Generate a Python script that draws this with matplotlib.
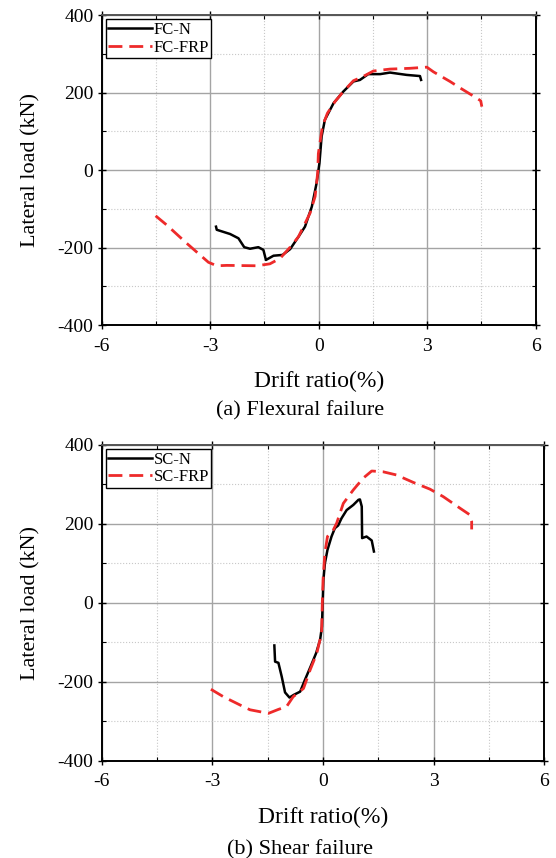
import matplotlib
matplotlib.use('Agg')
import matplotlib.pyplot as plt
from matplotlib.ticker import MultipleLocator

plt.rcParams['font.family'] = ['Liberation Serif', 'DejaVu Serif']
plt.rcParams['axes.unicode_minus'] = False

# (a) flexural failure
fc_n_x = [-2.84, -2.82, -2.45, -2.22, -2.06, -1.90, -1.67, -1.53, -1.46, -1.25, -1.00, -0.79,
          -0.56, -0.38, -0.19, -0.06, 0.02, 0.08, 0.17, 0.41, 0.68, 0.96, 1.14, 1.37, 1.70,
          1.97, 2.43, 2.80, 2.83]
fc_n_y = [-146, -154, -165, -176, -199, -203, -199, -206, -232, -221, -219, -204,
          -172, -146, -94, -34, 18, 87, 130, 173, 203, 229, 233, 248, 248,
          252, 246, 243, 233]
fc_frp_x = [-4.51, -4.20, -3.65, -3.05, -2.82, -2.54, -1.71, -1.35, -1.07, -0.79, -0.56, -0.24,
            -0.10, -0.03, -0.01, 0.10, 0.24, 0.45, 0.68, 0.96, 1.23, 1.51, 1.97, 2.52,
            2.99, 3.17, 3.63, 3.95, 4.37, 4.48, 4.51]
fc_frp_y = [-118, -142, -189, -238, -247, -246, -247, -242, -228, -199, -172, -111,
            -68, -8, 43, 112, 147, 177, 203, 231, 242, 256, 261, 263,
            266, 254, 229, 210, 186, 179, 164]

# (b) shear failure
sc_n_x = [-1.32, -1.30, -1.21, -1.12, -1.03, -0.91, -0.79, -0.62, -0.49, -0.34, -0.19, -0.08,
          -0.03, -0.01, 0.01, 0.05, 0.12, 0.23, 0.32, 0.41, 0.50, 0.64, 0.82, 0.96, 1.00,
          1.05, 1.06, 1.18, 1.32, 1.38]
sc_n_y = [-108, -149, -152, -187, -227, -240, -233, -225, -195, -162, -128, -94,
          -60, -1, 58, 100, 134, 168, 189, 196, 214, 235, 248, 261, 262,
          244, 164, 168, 158, 130]
sc_frp_x = [-3.04, -2.70, -2.16, -1.98, -1.48, -1.21, -0.99, -0.81, -0.53, -0.35, -0.17, -0.04,
            -0.02, 0.00, 0.05, 0.12, 0.28, 0.37, 0.55, 0.82, 1.09, 1.32, 1.63, 1.99,
            2.45, 2.90, 3.26, 3.71, 3.98, 4.03, 4.03]
sc_frp_y = [-219, -238, -263, -271, -280, -270, -263, -238, -217, -170, -128, -77,
            -1, 58, 126, 168, 185, 202, 252, 286, 316, 334, 332, 324,
            305, 288, 269, 240, 223, 206, 186]

panels = [
    ('FC-N', 'FC-FRP', fc_n_x, fc_n_y, fc_frp_x, fc_frp_y),
    ('SC-N', 'SC-FRP', sc_n_x, sc_n_y, sc_frp_x, sc_frp_y),
]

fig = plt.figure(figsize=(5.56, 8.58), dpi=100)
ax_a = fig.add_axes([0.183, 0.6212, 0.7805, 0.361])
ax_b = fig.add_axes([0.183, 0.1134, 0.796, 0.368])

for ax, (n_lab, f_lab, nx, ny, fx, fy) in zip([ax_a, ax_b], panels):
    ax.plot(nx, ny, color='black', lw=1.8, label=n_lab, zorder=3)
    ax.plot(fx, fy, color='#ee2a2a', lw=2.0, ls=(0, (5, 2.5)), label=f_lab, zorder=4)
    ax.set_xlim(-6, 6)
    ax.set_ylim(-400, 400)
    ax.xaxis.set_major_locator(MultipleLocator(3))
    ax.xaxis.set_minor_locator(MultipleLocator(1.5))
    ax.yaxis.set_major_locator(MultipleLocator(200))
    ax.yaxis.set_minor_locator(MultipleLocator(100))
    ax.grid(which='major', color='#a4a4a4', lw=1.0)
    ax.grid(which='minor', color='#c8c8c8', lw=0.8, ls=':')
    ax.set_axisbelow(True)
    ax.tick_params(which='major', direction='inout', length=6, width=1.0, labelsize=14,
                   top=True, right=True)
    ax.tick_params(axis='x', which='major', pad=6)
    ax.tick_params(axis='y', which='major', pad=3)
    ax.tick_params(which='minor', direction='in', length=3, width=0.8, top=True, right=True)
    for side in ['left', 'bottom', 'right', 'top']:
        ax.spines[side].set_linewidth(1.4)
    ax.spines['top'].set_color('#555555')
    ax.set_xlabel('Drift ratio(%)', fontsize=17, labelpad=12)
    ax.set_ylabel('Lateral load (kN)', fontsize=16, labelpad=12)
    leg = ax.legend(loc='upper left', fontsize=12, fancybox=False, framealpha=1,
                    edgecolor='black', borderpad=0.15, labelspacing=0.1, handlelength=2.6,
                    handletextpad=0.1, borderaxespad=0.25)
    leg.get_frame().set_linewidth(1.0)

fig.text(0.54, 0.521, '(a) Flexural failure', ha='center', va='center', fontsize=16)
fig.text(0.54, 0.010, '(b) Shear failure', ha='center', va='center', fontsize=16)

fig.savefig('out.png', dpi=100)
